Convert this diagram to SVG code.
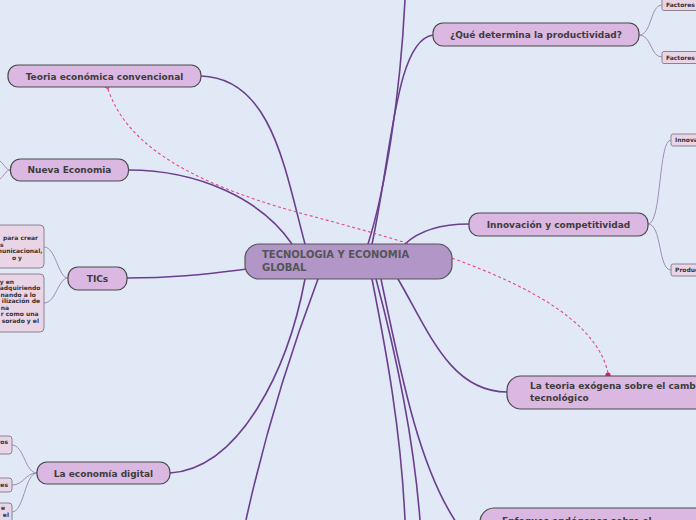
<svg xmlns="http://www.w3.org/2000/svg" width="696" height="520" viewBox="0 0 696 520">
<defs>
<style>
.main{fill:#dbb8e1;stroke:#4a4a4a;stroke-width:1.2}
.center{fill:#b196c7;stroke:#555;stroke-width:1.2}
.sub{fill:#ead5e7;stroke:#8c8290;stroke-width:1}
.t{font-family:"DejaVu Sans",Verdana,sans-serif;font-weight:bold;font-size:9px;fill:#3d3d3d}
.tc{font-family:"DejaVu Sans",Verdana,sans-serif;font-weight:bold;font-size:10px;fill:#555}
.ts{font-family:"DejaVu Sans",Verdana,sans-serif;font-weight:bold;font-size:6px;fill:#333}
.br{fill:none;stroke:#6b3f8d;stroke-width:1.6}
.sb{fill:none;stroke:#a48bb8;stroke-width:1}
.dash{fill:none;stroke:#e3498a;stroke-width:1.1;stroke-dasharray:3 2.5}
</style>
<marker id="arr" markerWidth="10" markerHeight="10" refX="1" refY="5" orient="auto-start-reverse" markerUnits="userSpaceOnUse">
<path d="M6,1.5 L1,5 L6,8.5" fill="none" stroke="#e3498a" stroke-width="1.1"/>
</marker>
</defs>
<rect width="696" height="520" fill="#e1e9f7"/>
<g id="connectors">
<path class="br" d="M368 244 C385 190 400 100 405 0"/>
<path class="br" d="M372 244 C392 150 396 40 433 35"/>
<path class="br" d="M405 244 C420 230 440 224 469 224"/>
<path class="br" d="M398 279 C428 330 450 392 507 392"/>
<path class="br" d="M372 279 C386 350 401 430 405 520"/>
<path class="br" d="M376 279 C395 350 413 430 420 520"/>
<path class="br" d="M381 279 C402 380 420 470 458 525"/>
<path class="br" d="M318 279 C295 340 268 420 246 520"/>
<path class="br" d="M305 279 C288 370 240 468 170 473"/>
<path class="br" d="M247 269 C200 275 170 278 127 278"/>
<path class="br" d="M292 244 C262 200 200 170 128 170"/>
<path class="br" d="M305 244 C285 170 272 78 201 76"/>
<path class="sb" d="M639 35 C652 35 650 5 662 5"/>
<path class="sb" d="M639 35 C652 35 650 57 662 57"/>
<path class="sb" d="M648 224 C662 224 658 140 671 140"/>
<path class="sb" d="M648 224 C662 224 658 270 671 270"/>
<path class="sb" d="M68 278 C58 278 56 247 44 247"/>
<path class="sb" d="M68 278 C58 278 56 303 44 303"/>
<path class="sb" d="M37 473 C25 473 24 445 12 445"/>
<path class="sb" d="M37 473 C25 473 24 485 12 485"/>
<path class="sb" d="M37 473 C25 473 24 512 12 512"/>
<path class="sb" d="M10 170 C6 170 4 164 0 161"/>
<path class="sb" d="M10 170 C6 170 4 176 0 179"/>
<path class="dash" marker-start="url(#arr)" d="M108 89 C125 140 180 180 300 213 C420 245 590 290 608 373"/>
<circle cx="608" cy="375" r="2.6" fill="#d6245e"/>
</g>
<g id="center">
<rect class="center" x="245" y="244" width="207" height="35" rx="14"/>
<text class="tc" x="262" y="258">TECNOLOGIA Y ECONOMIA</text>
<text class="tc" x="262" y="271">GLOBAL</text>
</g>
<g id="teoria-convencional">
<rect class="main" x="8" y="65" width="193" height="22" rx="10"/>
<text class="t" x="104.5" y="80" text-anchor="middle">Teoria económica convencional</text>
</g>
<g id="nueva-economia">
<rect class="main" x="10.5" y="159" width="118" height="22" rx="10"/>
<text class="t" x="69.5" y="173" text-anchor="middle">Nueva Economia</text>
</g>
<g id="tics">
<rect class="main" x="68" y="267" width="59" height="23" rx="10"/>
<text class="t" x="97.5" y="282" text-anchor="middle">TICs</text>
</g>
<g id="economia-digital">
<rect class="main" x="37" y="462" width="133" height="22" rx="10"/>
<text class="t" x="103.5" y="477" text-anchor="middle">La economía digital</text>
</g>
<g id="productividad">
<rect class="main" x="433" y="23" width="206" height="23" rx="10"/>
<text class="t" x="536" y="38" text-anchor="middle">¿Qué determina la productividad?</text>
</g>
<g id="innovacion">
<rect class="main" x="469" y="213" width="179" height="23" rx="10"/>
<text class="t" x="558.5" y="228" text-anchor="middle">Innovación y competitividad</text>
</g>
<g id="teoria-exogena">
<rect class="main" x="507" y="376" width="220" height="33" rx="14"/>
<text class="t" x="530" y="389">La teoria exógena sobre el cambio</text>
<text class="t" x="530" y="401">tecnológico</text>
</g>
<g id="enfoques">
<rect class="main" x="480" y="508" width="240" height="30" rx="14"/>
<text class="t" x="502" y="524">Enfoques endógenos sobre el</text>
</g>
<g id="factores-p">
<rect class="sub" x="662" y="-2" width="50" height="12.5" rx="2"/>
<text class="ts" x="666" y="7">Factores p</text>
</g>
<g id="factores-d">
<rect class="sub" x="662" y="51.5" width="50" height="12" rx="2"/>
<text class="ts" x="666" y="60">Factores d</text>
</g>
<g id="innova">
<rect class="sub" x="671" y="134" width="40" height="12" rx="2"/>
<text class="ts" x="675" y="142">Innova</text>
</g>
<g id="produc">
<rect class="sub" x="671" y="264" width="40" height="12" rx="2"/>
<text class="ts" x="675" y="272">Produc</text>
</g>
<g id="tics-1">
<rect class="sub" x="-10" y="225" width="54" height="43" rx="4"/>
<text class="ts" x="38" y="240" text-anchor="end">para crear</text>
<text class="ts" x="3.5" y="246.5" text-anchor="end">s</text>
<text class="ts" x="42.5" y="253" text-anchor="end">municacional,</text>
<text class="ts" x="22" y="259.5" text-anchor="end">o y</text>
</g>
<g id="tics-2">
<rect class="sub" x="-10" y="274" width="54" height="58" rx="4"/>
<text class="ts" x="14" y="283.5" text-anchor="end">y en</text>
<text class="ts" x="40.5" y="290" text-anchor="end">adquiriendo</text>
<text class="ts" x="36" y="296.5" text-anchor="end">nando a lo</text>
<text class="ts" x="40" y="303" text-anchor="end">ilización de</text>
<text class="ts" x="9" y="309.5" text-anchor="end">na</text>
<text class="ts" x="38.5" y="316" text-anchor="end">r como una</text>
<text class="ts" x="39" y="322.5" text-anchor="end">sorado y el</text>
</g>
<g id="digital-1">
<rect class="sub" x="-10" y="436" width="22" height="18" rx="3"/>
<text class="ts" x="8" y="444" text-anchor="end">dos</text>
</g>
<g id="digital-2">
<rect class="sub" x="-10" y="478" width="22" height="14" rx="3"/>
<text class="ts" x="8" y="487" text-anchor="end">ces</text>
</g>
<g id="digital-3">
<rect class="sub" x="-10" y="503" width="22" height="30" rx="3"/>
<text class="ts" x="5" y="510" text-anchor="end">e</text>
<text class="ts" x="9" y="517" text-anchor="end">el</text>
</g>
</svg>
